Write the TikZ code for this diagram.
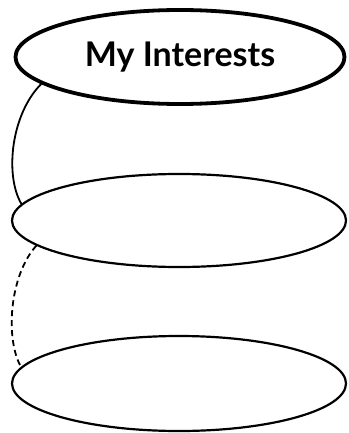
\documentclass[tikz,border=0pt]{standalone}
\usepackage{fontspec}
\setmainfont{Lato}
\usetikzlibrary{shapes.geometric,calc}
\begin{document}
\begin{tikzpicture}[x=1pt,y=-1pt,
  bubble/.style={ellipse,draw=black,fill=white,inner sep=0pt,line width=2.2pt},
  link/.style={line width=1.8pt}]
\useasboundingbox (0,0) rectangle (348,433);
\node[bubble,line width=3.8pt,minimum width=329pt,minimum height=94pt,font=\bfseries\fontsize{34}{38}\selectfont] (top) at (180,57) {My Interests};
\node[bubble,minimum width=334pt,minimum height=93pt] (mid) at (179,220.5) {};
\node[bubble,minimum width=334pt,minimum height=95pt] (bot) at (179,383.5) {};
\draw[link] (top.191) .. controls ($(top.191)+(-30,30)$) and ($(mid.174)+(-17,-29)$) .. (mid.174);
\draw[link,dashed,dash pattern=on 6pt off 4pt] (mid.190.7) .. controls ($(mid.190.7)+(-27,30)$) and ($(bot.174)+(-16,-28)$) .. (bot.174);
\end{tikzpicture}
\end{document}
